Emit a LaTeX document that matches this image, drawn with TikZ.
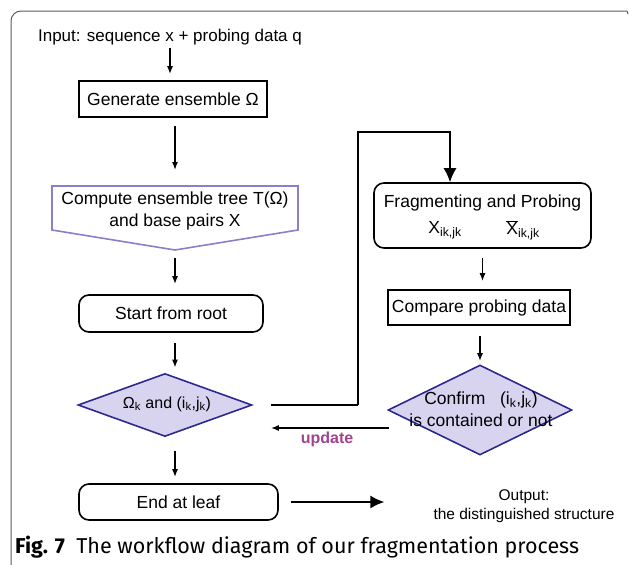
\documentclass[tikz,border=0pt]{standalone}
\usepackage{fontspec}
\setmainfont{Liberation Sans}
\newfontfamily\capfont{Fira Sans}
\usetikzlibrary{shapes.geometric,arrows.meta,calc}
\definecolor{pent}{RGB}{143,124,204}
\definecolor{lav}{RGB}{216,212,240}
\definecolor{dblue}{RGB}{45,42,143}
\definecolor{upd}{RGB}{163,66,143}
\definecolor{frame}{RGB}{90,90,90}
\begin{document}
\begin{tikzpicture}[x=1pt,y=-1pt,
  arr/.style={-{Latex[length=8pt,width=6pt]}, line width=1.5pt},
  bigarr/.style={-{Latex[length=14pt,width=13pt]}, line width=1.5pt},
  conn/.style={line width=1.5pt},
  sqbox/.style={draw, line width=1.6pt, inner sep=0pt, font=\fontsize{17.5}{21}\selectfont},
  rbox/.style={draw, line width=1.6pt, rounded corners=10pt, inner sep=0pt, font=\fontsize{17.5}{21}\selectfont},
  dia/.style={diamond, draw=dblue, fill=lav, line width=1.6pt, inner sep=0pt},
  lbl/.style={font=\fontsize{17.5}{21}\selectfont, align=center, inner sep=1pt}
]
\useasboundingbox (0,0) rectangle (630,565);
% outer frame
\draw[frame, line width=1pt, rounded corners=10pt] (11,565) -- (11,11) -- (627,11);
\draw[frame, line width=1pt] (627,11) -- (628,14);

% left column
\node[lbl, font=\fontsize{17}{20}\selectfont] (inp) at (170,37) {Input: sequence x + probing data q};
\node[sqbox, minimum width=188pt, minimum height=36pt] (gen) at (173,99) {Generate ensemble Ω};
\coordinate (p1) at (52,186);
\coordinate (p2) at (298,186);
\coordinate (p3) at (298,230);
\coordinate (p4) at (175,250);
\coordinate (p5) at (52,230);
\draw[pent, line width=1.6pt] (p1) -- (p2) -- (p3) -- (p4) -- (p5) -- cycle;
\node[lbl, font=\fontsize{17.5}{22}\selectfont] (comp) at (175,211) {Compute ensemble tree T(Ω)\\and base pairs X};
\node[rbox, minimum width=184pt, minimum height=37pt] (start) at (171,313.5) {Start from root};
\node[dia, minimum width=174pt, minimum height=63pt] (d1) at (165,405) {};
\node[lbl, font=\fontsize{16}{19}\selectfont] (d1t) at (167,404) {Ω\textsubscript{k} and (i\textsubscript{k},j\textsubscript{k})};
\node[rbox, minimum width=199pt, minimum height=36pt] (end) at (178.5,502) {End at leaf};

% right column
\node[rbox, minimum width=217pt, minimum height=65pt] (frag) at (482.5,215.5) {};
\node[lbl] (fragt) at (482.5,203) {Fragmenting and Probing};
\node[lbl] (x1) at (445,230) {X\textsubscript{ik,jk}};
\node[lbl] (x2) at (523,230) {$\overline{\mbox{X}}$\textsubscript{ik,jk}};
\node[sqbox, minimum width=182pt, minimum height=35pt] (cmp) at (479,307.5) {Compare probing data};
\node[dia, minimum width=184pt, minimum height=90pt] (d2) at (480,410) {};
\node[lbl, font=\fontsize{17.5}{22}\selectfont] (d2t) at (481,409) {Confirm \ \ (i\textsubscript{k},j\textsubscript{k})\\is contained or not};

\node[lbl, font=\fontsize{15.5}{19}\selectfont] (out) at (524,506) {Output:\\the distinguished structure};
\node[text=upd, font=\bfseries\fontsize{16}{18}\selectfont, inner sep=1pt] (upd) at (327,439) {update};

% connectors
\draw[arr, shorten <=2pt, shorten >=6pt] (inp) -- (inp |- gen.north);
\draw[arr, shorten <=8pt, shorten >=16pt] (gen.south -| p4) -- (p4 |- p1);
\draw[arr, shorten <=8pt, shorten >=10pt] (p4) -- (p4 |- start.north);
\draw[arr, shorten <=10pt, shorten >=5pt] (start.south -| p4) -- (p4 |- d1.north);
\draw[arr, shorten <=14pt, shorten >=6pt] (d1.south -| p4) -- (p4 |- end.north);
\draw[bigarr, shorten >=48pt] (end.east) ++(12,0) coordinate (e1) -- (e1 -| out.west);
\coordinate (r1) at (358,405);
\coordinate (r2) at (450,132);
\draw[conn, shorten <=18pt] (d1.east) -- (r1);
\draw[bigarr] (r1) |- (r2) -- (r2 |- frag.north);
\draw[arr, shorten <=9pt, shorten >=8pt] (frag.south) -- (frag.south |- cmp.north);
\draw[arr, shorten <=10pt, shorten >=3pt] (cmp.south -| d2.north) -- (d2.north);
\draw[arr, shorten <=-2pt, shorten >=18pt] ([yshift=-18pt]d2.west) -- ([yshift=-18pt]d2.west -| d1.east);

% caption
\node[anchor=base west, inner sep=0pt, font=\capfont\fontsize{21.5}{25}\selectfont] (cap) at (15,553) {\textbf{Fig. 7}\ \ The workflow diagram of our fragmentation process};
\end{tikzpicture}
\end{document}
